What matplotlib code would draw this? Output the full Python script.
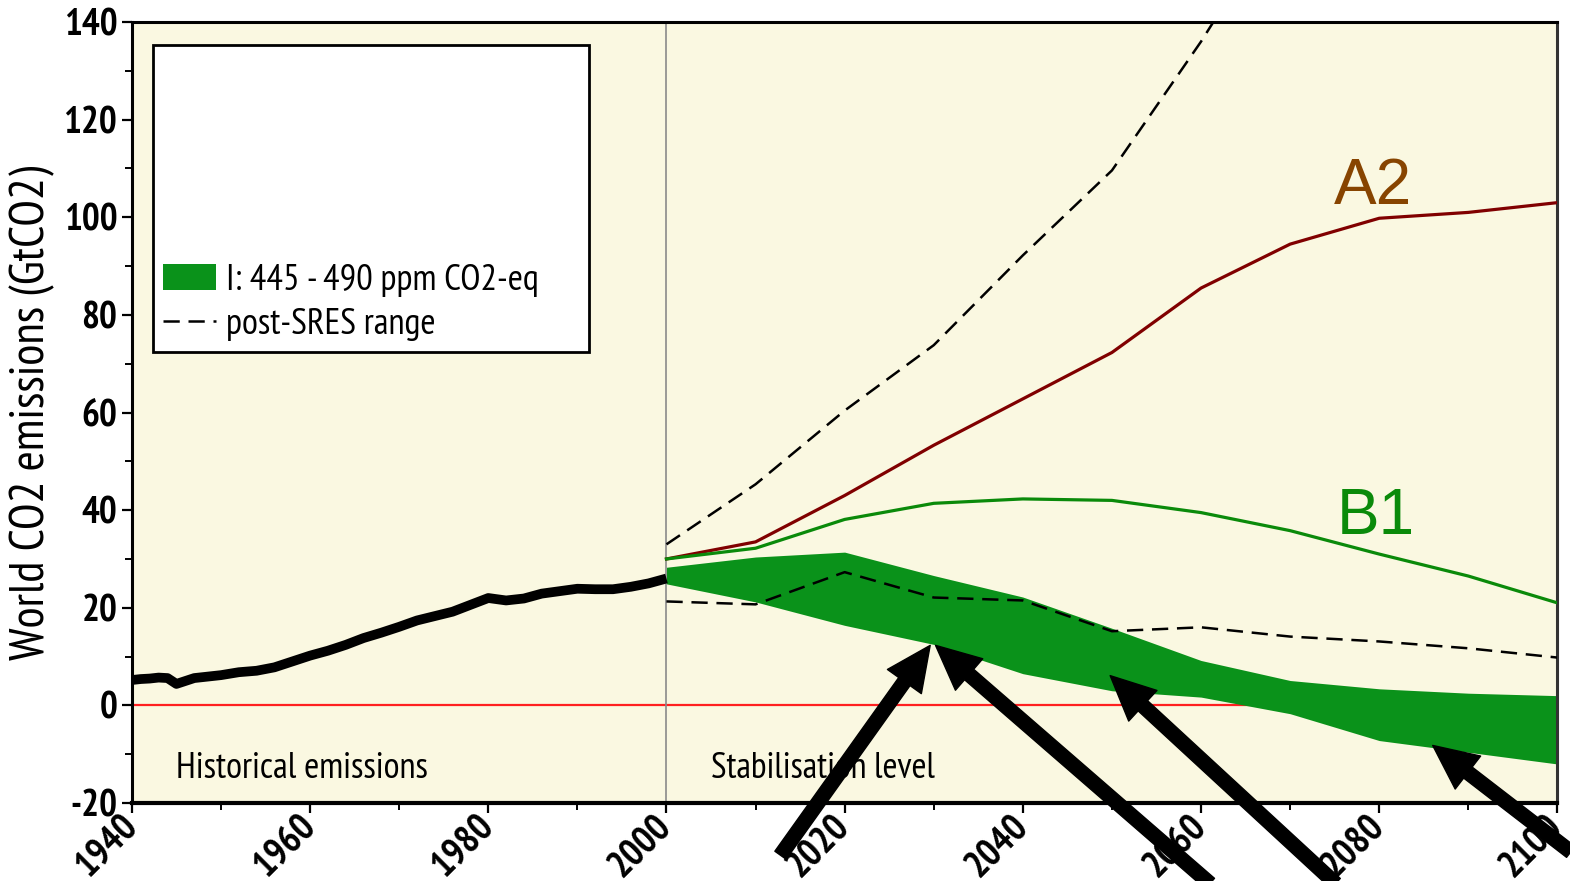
"""IPCC-style CO2 emission pathways: history, A2/B1, post-SRES range, category I band."""
import matplotlib
matplotlib.use("Agg")
import matplotlib.pyplot as plt
from matplotlib.patches import Rectangle
from matplotlib.ticker import MultipleLocator

plt.rcParams["font.family"] = ["PT Sans Narrow", "Archivo Narrow", "Fira Sans Condensed", "DejaVu Sans"]
plt.rcParams["axes.unicode_minus"] = False

# historical emissions
hist_years = [1940, 1941, 1942, 1943, 1944, 1945, 1946, 1947, 1948, 1950, 1952, 1954,
              1956, 1958, 1960, 1962, 1964, 1966, 1968, 1970, 1972, 1974, 1976, 1978,
              1980, 1982, 1984, 1986, 1988, 1990, 1992, 1994, 1996, 1998, 2000]
hist_vals = [5.2, 5.4, 5.5, 5.7, 5.6, 4.4, 5.0, 5.6, 5.8, 6.2, 6.8, 7.1,
             7.8, 9.0, 10.2, 11.2, 12.4, 13.8, 14.9, 16.1, 17.4, 18.3, 19.2, 20.6,
             22.0, 21.5, 21.9, 22.9, 23.4, 23.9, 23.8, 23.8, 24.3, 25.0, 26.0]

# scenario years
scen_years = [2000, 2010, 2020, 2030, 2040, 2050, 2060, 2070, 2080, 2090, 2100]
a2_vals = [30.0, 33.5, 43.0, 53.3, 62.8, 72.3, 85.5, 94.5, 99.8, 101.0, 103.0]
b1_vals = [30.0, 32.2, 38.1, 41.4, 42.3, 42.0, 39.5, 35.8, 31.0, 26.5, 21.0]
sres_hi = [33.0, 45.3, 60.4, 73.8, 92.2, 109.6, 136.0, 165.0, 185.0, 200.0, 210.0]
sres_lo = [21.3, 20.7, 27.3, 22.1, 21.5, 15.2, 16.0, 14.1, 13.1, 11.7, 9.8]
cat1_hi = [28.3, 30.4, 31.4, 26.6, 22.2, 15.8, 9.2, 5.1, 3.4, 2.5, 2.0]
cat1_lo = [24.9, 21.2, 16.4, 12.5, 6.5, 3.0, 1.7, -1.7, -7.2, -9.6, -12.0]

# arrows: (tail year, tail value) -> (tip year, tip value)
arrow_tails = [(2012.8, -30.7), (2061.0, -36.5), (2075.1, -36.5), (2101.5, -30.0)]
arrow_tips = [(2029.6, 12.3), (2030.2, 12.3), (2049.8, 6.1), (2086.0, -8.2)]

BG = "#faf8e1"
BAND = "#0a921a"
B1_COL = "#0a8a0a"
A2_COL = "#800000"
A2_TXT = "#874400"
BIG = ["Liberation Sans", "DejaVu Sans"]

fig = plt.figure(figsize=(15.7, 8.81), dpi=100)
ax = fig.add_axes([0.084, 0.0885, 0.908, 0.8865])
ax.set_facecolor(BG)

ax.axhline(0, color="#ff2020", lw=1.6, zorder=1)
ax.axvline(2000, color="#8a8a8a", lw=1.2, zorder=1)

dash = (0, (6.5, 3.5))
ax.fill_between(scen_years, cat1_lo, cat1_hi, color=BAND, lw=0,
                label="I: 445 - 490 ppm CO2-eq", zorder=2)
ax.plot(scen_years, sres_hi, color="black", lw=1.8, ls=dash,
        label="post-SRES range", zorder=3)
ax.plot(scen_years, sres_lo, color="black", lw=1.8, ls=dash, zorder=3)
ax.plot(scen_years, a2_vals, color=A2_COL, lw=2.3, zorder=3)
ax.plot(scen_years, b1_vals, color=B1_COL, lw=2.3, zorder=3)
ax.plot(hist_years, hist_vals, color="black", lw=7, solid_capstyle="butt", zorder=4)

ax.set_xlim(1940, 2100)
ax.set_ylim(-20, 140)
ax.xaxis.set_major_locator(MultipleLocator(20))
ax.xaxis.set_minor_locator(MultipleLocator(10))
ax.yaxis.set_major_locator(MultipleLocator(20))
ax.yaxis.set_minor_locator(MultipleLocator(10))
ax.tick_params(which="major", length=7, width=1.6, direction="out", labelsize=27)
ax.tick_params(which="minor", length=5, width=1.4, direction="out")
ax.tick_params(axis="x", pad=6)
for lab in ax.get_xticklabels():
    lab.set_rotation(45)
    lab.set_ha("right")
    lab.set_va("center")
    lab.set_rotation_mode("anchor")
for lab in ax.get_xticklabels() + ax.get_yticklabels():
    lab.set_fontweight("bold")
for sp in ax.spines.values():
    sp.set_linewidth(2.2)
ax.spines["bottom"].set_linewidth(3)
ax.spines["right"].set_color("#333333")

ax.set_ylabel("World CO2 emissions (GtCO2)", fontsize=35, labelpad=6)

# legend box (white panel with the entries at its foot)
ax.add_patch(Rectangle((0.0147, 0.5775), 0.306, 0.393, transform=ax.transAxes,
                       facecolor="white", edgecolor="black", lw=2, zorder=5))
ax.legend(loc="lower left", bbox_to_anchor=(0.0218, 0.592), frameon=False,
          fontsize=26.5, handlelength=1.45, handleheight=0.7, handletextpad=0.25,
          labelspacing=0.3, borderpad=0, borderaxespad=0).set_zorder(6)

ax.text(1944.9, -12.9, "Historical emissions", fontsize=26.5, va="center", ha="left")
ax.text(2005.0, -12.9, "Stabilisation level", fontsize=26, va="center", ha="left")
ax.text(2079.3, 106.3, "A2", fontsize=46, color=A2_TXT, family=BIG,
        ha="center", va="center")
ax.text(2079.6, 38.5, "B1", fontsize=46, color=B1_COL, family=BIG,
        ha="center", va="center")

for tail, tip in zip(arrow_tails, arrow_tips):
    ax.annotate("", xy=tip, xytext=tail, annotation_clip=False, zorder=10,
                arrowprops=dict(arrowstyle="simple,head_length=1.6,head_width=1.5,tail_width=0.5",
                                color="black", shrinkA=0, shrinkB=0,
                                mutation_scale=20, clip_on=False))

fig.savefig("out.png", dpi=100, facecolor="white")
